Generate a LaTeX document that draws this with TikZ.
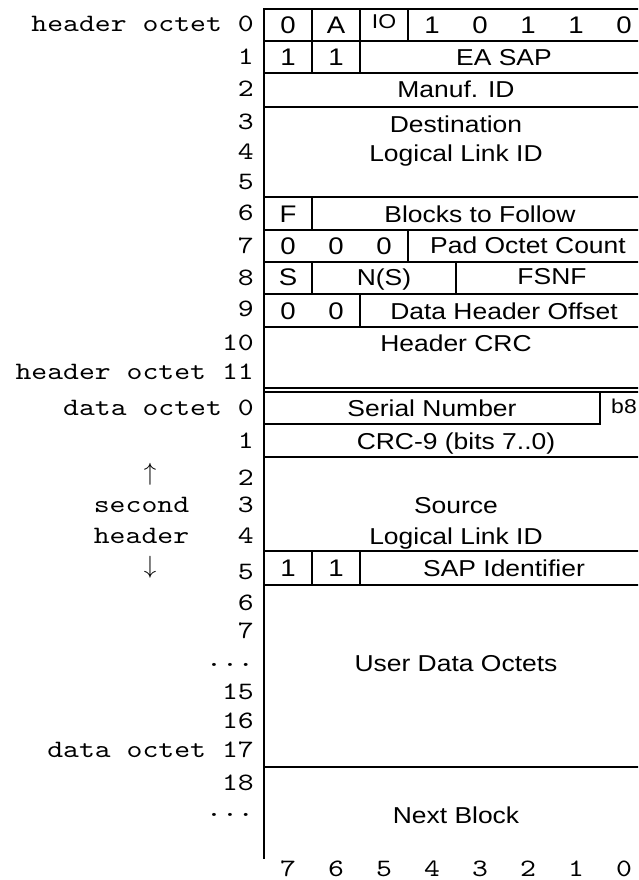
\documentclass[tikz,border=0pt]{standalone}
\usepackage{fontspec}
\setmainfont[FakeStretch=1.15]{Liberation Sans}
\newfontfamily\labelmono{lmmono10-regular.otf}[FakeStretch=1.21]
\tikzset{
  frame/.style={line width=2.2pt, line cap=rect},
  thin/.style={line width=1.8pt},
  fld/.style={anchor=base, inner sep=0pt, font=\fontsize{23}{23}\selectfont},
  bitv/.style={anchor=base, inner sep=0pt, font=\fontsize{24}{24}\selectfont},
  octlab/.style={anchor=base east, inner sep=0pt, font=\labelmono\fontsize{25}{25}\selectfont},
  bitlab/.style={anchor=base, inner sep=0pt, font=\labelmono\fontsize{25}{25}\selectfont},
  arr/.style={anchor=base, inner sep=0pt, font=\fontsize{26}{26}\selectfont},
}
\begin{document}
\begin{tikzpicture}[x=1pt,y=-1pt]
\useasboundingbox (0,0) rectangle (638,880);
\clip (0,0) rectangle (638,880);

% frame
\draw[frame] (264,9) -- (264,858);
\foreach \yy in {9,41,73,107,197,230,262,294,327,457,551,585,767}
  \draw[frame] (264,\yy) -- (650,\yy);
\draw[thin] (264,387.8) -- (650,387.8);
\draw[thin] (264,392.2) -- (650,392.2);
\draw[frame] (264,424) -- (600,424) -- (600,392.2);

% column dividers
\foreach \xx in {312,360,408} \draw[frame] (\xx,9) -- (\xx,41);
\foreach \xx in {312,360} \draw[frame] (\xx,41) -- (\xx,73);
\draw[frame] (312,197) -- (312,230);
\draw[frame] (408,230) -- (408,262);
\foreach \xx in {312,456} \draw[frame] (\xx,262) -- (\xx,294);
\draw[frame] (360,294) -- (360,327);
\foreach \xx in {312,360} \draw[frame] (\xx,551) -- (\xx,585);

% row 0
\node[bitv] (r0a) at (288,33.5) {0};
\node[bitv] (r0b) at (336,33.5) {A};
\node[fld, font=\fontsize{20}{20}\selectfont] (r0c) at (384,29) {IO};
\node[bitv] (r0d) at (432,33.5) {1};
\node[bitv] (r0e) at (480,33.5) {0};
\node[bitv] (r0f) at (528,33.5) {1};
\node[bitv] (r0g) at (576,33.5) {1};
\node[bitv] (r0h) at (624,33.5) {0};
% row 1
\node[bitv] (r1a) at (288,65.5) {1};
\node[bitv] (r1b) at (336,65.5) {1};
\node[fld] (easap) at (504,65.5) {EA SAP};
% row 2
\node[fld] (manuf) at (456,98) {Manuf. ID};
% rows 3-5
\node[fld] (dest) at (456,132.5) {Destination};
\node[fld] (dllid) at (456,161) {Logical Link ID};
% row 6
\node[bitv] (r6a) at (288,222) {F};
\node[fld] (btf) at (480,222) {Blocks to Follow};
% row 7
\node[bitv] (r7a) at (288,254) {0};
\node[bitv] (r7b) at (336,254) {0};
\node[bitv] (r7c) at (384,254) {0};
\node[fld] (poc) at (528,253.5) {Pad Octet Count};
% row 8
\node[bitv] (r8a) at (288,285.5) {S};
\node[fld] (ns) at (384,285) {N(S)};
\node[fld] (fsnf) at (552,284.5) {FSNF};
% row 9
\node[bitv] (r9a) at (288,319) {0};
\node[bitv] (r9b) at (336,319) {0};
\node[fld] (dho) at (504,319) {Data Header Offset};
% rows 10-11
\node[fld] (hcrc) at (456,351) {Header CRC};
% data rows
\node[fld] (serial) at (432,416.5) {Serial Number};
\node[fld, font=\fontsize{20}{20}\selectfont] (b8) at (624,413.5) {b8};
\node[fld] (crc9) at (456,449) {CRC-9 (bits 7..0)};
\node[fld] (src) at (456,513) {Source};
\node[fld] (sllid) at (456,544) {Logical Link ID};
\node[bitv] (d5a) at (288,576.5) {1};
\node[bitv] (d5b) at (336,576.5) {1};
\node[fld] (sapid) at (504,576.5) {SAP Identifier};
\node[fld] (udo) at (456,671) {User Data Octets};
\node[fld] (nb) at (456,823) {Next Block};

% octet labels
\node[octlab] (l0) at (254,32) {header octet 0};
\node[octlab] (l1) at (254,65) {1};
\node[octlab] (l2) at (254,97) {2};
\node[octlab] (l3) at (254,129) {3};
\node[octlab] (l4) at (254,159) {4};
\node[octlab] (l5) at (254,189) {5};
\node[octlab] (l6) at (254,220) {6};
\node[octlab] (l7) at (254,253) {7};
\node[octlab] (l8) at (254,285) {8};
\node[octlab] (l9) at (254,316) {9};
\node[octlab] (l10) at (254,350) {10};
\node[octlab] (l11) at (254,379) {header octet 11};
\node[octlab] (m0) at (254,415) {data octet 0};
\node[octlab] (m1) at (254,448) {1};
\node[octlab] (m2) at (254,485) {2};
\node[octlab] (m3) at (254,512) {3};
\node[octlab] (m4) at (254,543) {4};
\node[octlab] (m5) at (254,579) {5};
\node[octlab] (m6) at (254,610) {6};
\node[octlab] (m7) at (254,638) {7};
\node[octlab] (mdots) at (254,666) {...};
\node[octlab] (m15) at (254,699) {15};
\node[octlab] (m16) at (254,728) {16};
\node[octlab] (m17) at (254,757) {data octet 17};
\node[octlab] (m18) at (254,790) {18};
\node[octlab] (mdots2) at (254,816) {...};

% second header note
\node[arr] (up) at (150,480) {$\uparrow$};
\node[bitlab] (sec) at (141.5,512) {second};
\node[bitlab] (hdr) at (141.5,543) {header};
\node[arr] (down) at (150,573) {$\downarrow$};

% bit numbers
\foreach \b [count=\i from 0] in {7,6,5,4,3,2,1,0}
  \node[bitlab] (bit\b) at (288+48*\i,876) {\b};
\end{tikzpicture}
\end{document}
